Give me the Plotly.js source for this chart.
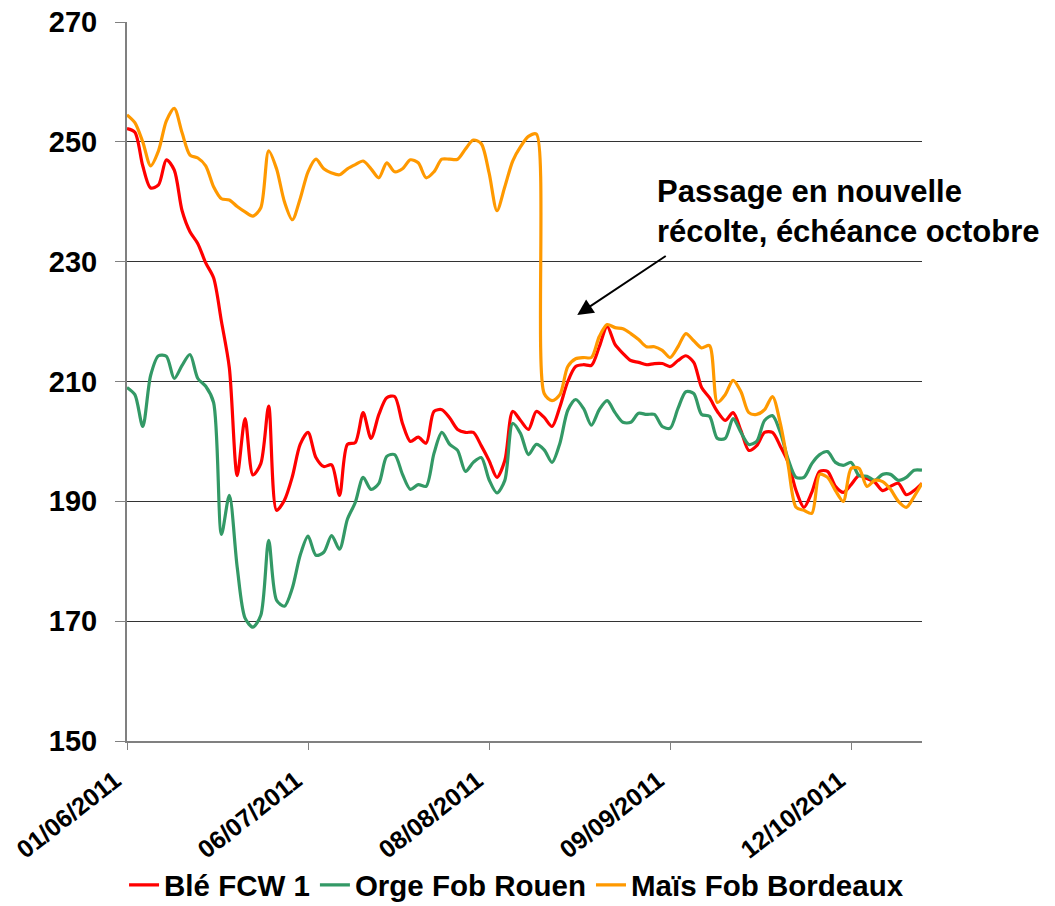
<!DOCTYPE html>
<html>
<head>
<meta charset="utf-8">
<script src="https://cdn.plot.ly/plotly-3.0.1.min.js"></script>
<style>
html,body{margin:0;padding:0;background:#fff;}
#chart{width:1055px;height:906px;}
</style>
</head>
<body>
<div id="chart"></div>
<script>
// Category positions (trading sessions) and tick labels
var tickPositions = [0, 23, 46, 69, 92];
var tickLabels = ["01/06/2011", "06/07/2011", "08/08/2011", "09/09/2011", "12/10/2011"];

var ble = [252.2,251.6,246,242.3,242.8,247,245.3,238.5,235,233,
229.8,227.3,220,212.3,194.3,203.8,194.4,196.3,205.9,188.5,
190.2,194.1,199.5,201.5,197.3,195.8,196.1,191,199.5,199.8,
204.8,200.5,204.5,207.3,207.5,203,200,200.7,199.7,205,
205.3,203.9,202,201.5,201.5,199.3,196.8,194,196.8,205,
203.5,202,205,204,202.5,205.8,210,212.5,212.8,212.7,
215.8,219.2,216.2,214.7,213.5,213.2,212.8,213,213,212.5,
213.5,214.3,213.2,209,207.3,205,203.5,204.8,201.8,198.5,
199.3,201.5,201.5,199.2,196.5,191.8,189,191.5,195,195,
192.5,191.5,192.8,194.3,193.8,193.2,191.8,192.5,193,191.1,
191.8,193];

var orge = [209,207.8,202.5,211,214.3,214.2,210.5,212.7,214.5,210.5,
209.2,206.5,184.5,191,179,170.5,169,171,183.5,173.5,
172.5,175.5,181,184.2,181,181.5,184.3,182,187,189.8,
194,192,193,197.5,197.8,194.5,192,192.8,192.5,198,
201.5,199.5,198.5,195,196.5,197.3,193.6,191.4,193.5,203,
201.3,197.8,199.5,198.6,196.5,199.7,205.2,207,205.5,202.7,
205.3,206.8,204.8,203.2,203.2,204.7,204.5,204.5,202.5,202.2,
205.5,208.3,208,204.5,204.2,200.5,200.5,203.8,201.5,199.5,
200,203.5,204.3,201.5,197,194,194,196.3,197.8,198.3,
196.5,196,196.5,194.3,194.2,193.5,194.5,194.5,193.5,194,
195.2,195.2];

var mais = [254.5,253.2,250,246,248.5,253.5,255.6,251.5,247.8,247.3,
246,242.5,240.5,240.3,239.2,238.3,237.6,239,248.5,245.5,
240,237,240.5,245,247.1,245.5,244.8,244.5,245.5,246.2,
246.8,245.5,244,246.5,245,245.5,247,246.5,244,245,
247.1,247.1,247.1,248.8,250.3,249.7,244.8,238.5,242.5,246.8,
249.2,250.9,251.3,208,206.8,207.8,212.5,213.8,214,214,
217.5,219.5,219,218.8,218,217,215.8,215.8,215.2,214,
215.8,218,216.8,215.6,216,206.5,207.8,210.2,208.3,204.8,
204.5,205.3,207.5,203,196,189,188.5,188,194.5,194,
191.8,190,195.5,195.5,192.5,193.5,193.3,192,190,189,
190.8,193];

var idx = ble.map(function(_, i){ return i; });

var FONT = "Liberation Sans, Arial, Helvetica, sans-serif";

function trace(name, y, color){
  return {
    x: idx, y: y, name: name, type: "scatter", mode: "lines",
    line: {color: color, width: 3.2, shape: "spline", smoothing: 0.8},
    hoverinfo: "skip"
  };
}

var data = [
  trace("Blé FCW 1", ble, "#FF0000"),
  trace("Orge Fob Rouen", orge, "#339966"),
  trace("Maïs Fob Bordeaux", mais, "#FF9900")
];

var layout = {
  width: 1055, height: 906,
  margin: {l: 127, r: 133, t: 22, b: 165, pad: 0, autoexpand: false},
  paper_bgcolor: "#fff", plot_bgcolor: "#fff",
  showlegend: true,
  font: {family: FONT, color: "#000"},
  xaxis: {
    range: [0, 101], automargin: false,
    tickmode: "array", tickvals: tickPositions, ticktext: tickLabels,
    tickangle: -38,
    tickfont: {family: FONT, size: 25, weight: "bold", color: "#000"},
    ticks: "outside", ticklen: 7, tickwidth: 1, tickcolor: "#808080",
    ticklabelstandoff: 6, ticklabelshift: -12,
    showline: true, linecolor: "#808080", linewidth: 2,
    showgrid: false, zeroline: false, fixedrange: true
  },
  yaxis: {
    range: [150, 270], automargin: false,
    tickmode: "array", tickvals: [150,170,190,210,230,250,270],
    tickfont: {family: FONT, size: 29, weight: "bold", color: "#000"},
    ticks: "outside", ticklen: 10, tickwidth: 1, tickcolor: "#808080",
    ticklabelstandoff: 12,
    showline: true, linecolor: "#808080", linewidth: 2,
    showgrid: true, gridcolor: "#333", gridwidth: 1,
    zeroline: false, fixedrange: true
  },
  legend: {
    orientation: "h", x: 0.49, xanchor: "center",
    yref: "container", y: 0.023, yanchor: "middle",
    font: {family: FONT, size: 29.5, weight: "bold", color: "#000"},
    itemwidth: 30, tracegroupgap: 0
  },
  annotations: [
    {
      xref: "paper", yref: "paper", x: 0.664, y: 0.736,
      xanchor: "left", yanchor: "middle", align: "left",
      text: "Passage en nouvelle<br>récolte, échéance octobre",
      showarrow: false,
      font: {family: FONT, size: 31, weight: "bold", color: "#000"}
    },
    {
      xref: "x", yref: "y", x: 57.2, y: 221.1,
      ax: 90, ay: -60, text: "",
      showarrow: true, arrowhead: 2, arrowsize: 1.6, arrowwidth: 2, arrowcolor: "#000"
    }
  ]
};

Plotly.newPlot("chart", data, layout, {displayModeBar: false, staticPlot: true});
</script>
</body>
</html>
